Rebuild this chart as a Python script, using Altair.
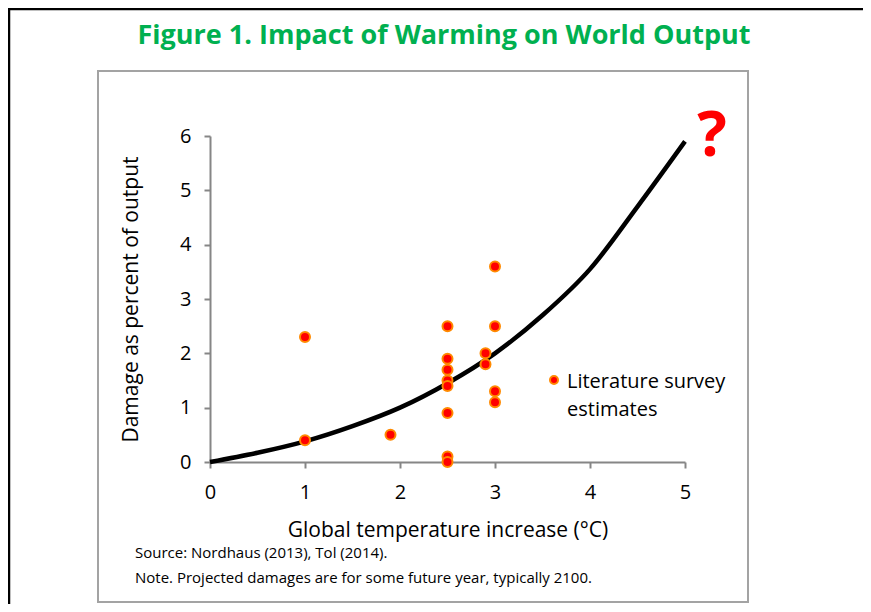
import altair as alt
import pandas as pd

# ---- data ----
curve_x = [0, 0.5, 1, 1.5, 2, 2.5, 3, 3.5, 4, 4.5, 5]
curve_y = [0, 0.17, 0.38, 0.66, 1.0, 1.45, 2.0, 2.7, 3.55, 4.7, 5.9]

est_x = [1, 1, 1.9, 2.5, 2.5, 2.5, 2.5, 2.5, 2.5, 2.5, 2.5, 2.9, 2.9, 3, 3, 3, 3]
est_y = [2.3, 0.4, 0.5, 2.5, 1.9, 1.7, 1.5, 1.4, 0.9, 0.1, 0.0, 2.0, 1.8, 3.6, 2.5, 1.3, 1.1]

x_ticks = [0, 1, 2, 3, 4, 5]
y_ticks = [0, 1, 2, 3, 4, 5, 6]

title_text = "Figure 1. Impact of Warming on World Output"
x_title = "Global temperature increase (°C)"
y_title = "Damage as percent of output"
source_text = "Source: Nordhaus (2013), Tol (2014)."
note_text = "Note. Projected damages are for some future year, typically 2100."
legend_text = "Literature survey\nestimates"
question_text = "?"

FONT = "Open Sans"
W, H = 475, 326
AXIS_GRAY = "#868686"
DOT_FILL = "#ff0000"
DOT_STROKE = "#ff8a00"

curve_df = pd.DataFrame({"temp": curve_x, "damage": curve_y})
est_df = pd.DataFrame({"temp": est_x, "damage": est_y})
one = alt.Data(values=[{}])

xs = alt.Scale(domain=[0, 5], nice=False)
ys = alt.Scale(domain=[0, 6], nice=False)

x_axis = alt.Axis(values=x_ticks, title=x_title, grid=False, tickSize=6, labelFlush=False,
                  labelPadding=14, titlePadding=17, format="d")
y_axis = alt.Axis(values=y_ticks, title=y_title, grid=False, tickSize=6, labelFlush=False,
                  labelPadding=13, titlePadding=38, format="d")

# frames
inner_box = alt.Chart(one).mark_rect(fillOpacity=0, stroke="#a3a3a3", strokeWidth=2).encode(
    x=alt.value(-112), x2=alt.value(538), y=alt.value(-65), y2=alt.value(466))
top_rule = alt.Chart(one).mark_rule(color="black", strokeWidth=2.5).encode(
    x=alt.value(-202), x2=alt.value(660), y=alt.value(-127))
left_rule = alt.Chart(one).mark_rule(color="black", strokeWidth=2.5).encode(
    x=alt.value(-201), y=alt.value(-128), y2=alt.value(476))

fig_title = alt.Chart(one).mark_text(align="center", baseline="alphabetic", font=FONT,
                                      fontSize=27, fontWeight="bold", color="#00b050").encode(
    x=alt.value(234), y=alt.value(-92), text=alt.value(title_text))

curve = alt.Chart(curve_df).mark_line(color="black", strokeWidth=4.5, interpolate="monotone").encode(
    x=alt.X("temp:Q", scale=xs, axis=x_axis),
    y=alt.Y("damage:Q", scale=ys, axis=y_axis),
)

dots = alt.Chart(est_df).mark_circle(color=DOT_FILL, stroke=DOT_STROKE, strokeWidth=2,
                                      size=100, opacity=1).encode(
    x=alt.X("temp:Q", scale=xs),
    y=alt.Y("damage:Q", scale=ys),
)

legend_dot = alt.Chart(one).mark_circle(color=DOT_FILL, stroke=DOT_STROKE, strokeWidth=2,
                                         size=64, opacity=1).encode(
    x=alt.value(344), y=alt.value(244))
legend_label = alt.Chart(one).mark_text(align="left", baseline="alphabetic", font=FONT,
                                         fontSize=20, lineBreak="\n", lineHeight=28,
                                         color="black").encode(
    x=alt.value(357), y=alt.value(252), text=alt.value(legend_text))

qmark = alt.Chart(one).mark_text(align="center", baseline="alphabetic", font=FONT,
                                  fontSize=62, fontWeight="bold", color="#ff0000").encode(
    x=alt.value(502), y=alt.value(20), text=alt.value(question_text))

src = alt.Chart(one).mark_text(align="left", baseline="middle", font=FONT, fontSize=15,
                                color="black").encode(
    x=alt.value(-75), y=alt.value(417), text=alt.value(source_text))
note = alt.Chart(one).mark_text(align="left", baseline="middle", font=FONT, fontSize=15,
                                 color="black").encode(
    x=alt.value(-75), y=alt.value(442), text=alt.value(note_text))

chart = alt.layer(
    inner_box, top_rule, left_rule, fig_title, curve, dots, legend_dot, legend_label,
    qmark, src, note
).properties(
    width=W, height=H,
    autosize="none",
    padding={"left": 202, "top": 128, "right": 178, "bottom": 142},
).configure_view(stroke=None).configure_axis(
    domainColor=AXIS_GRAY, domainWidth=2, tickColor=AXIS_GRAY, tickWidth=2,
    labelFont=FONT, labelFontSize=20, labelColor="black",
    titleFont=FONT, titleFontSize=21, titleFontWeight="normal", titleColor="black",
)

chart.save("out.html", embed_options={"renderer": "svg", "actions": False})
